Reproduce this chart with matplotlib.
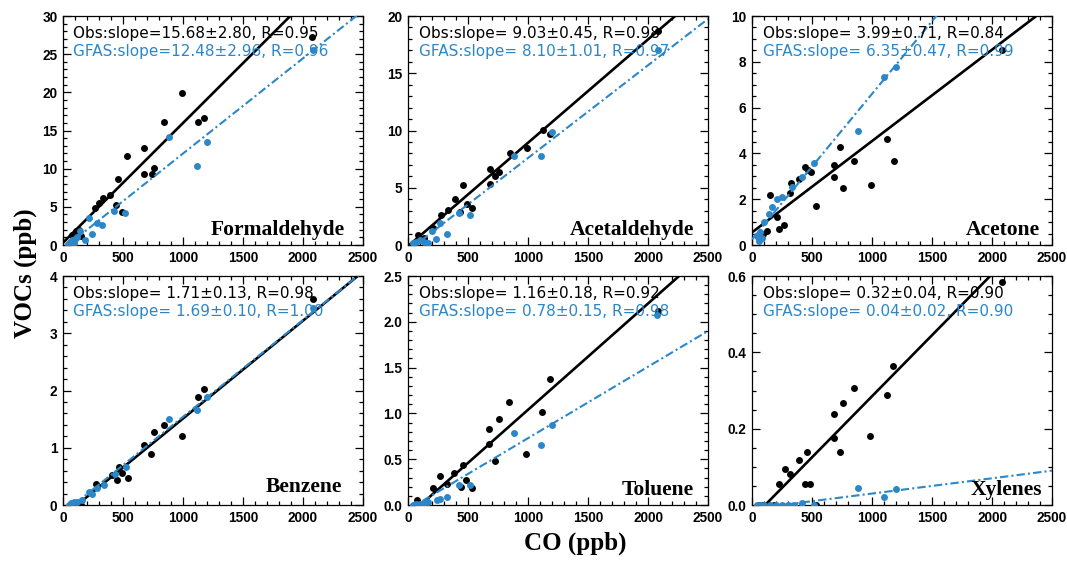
import numpy as np
import matplotlib
matplotlib.use("Agg")
import matplotlib.pyplot as plt
from matplotlib.ticker import MultipleLocator

# species names and fit results (slope in ppb VOC per ppm CO)
species = ["Formaldehyde", "Acetaldehyde", "Acetone", "Benzene", "Toluene", "Xylenes"]
obs_slope = [15.68, 9.03, 3.99, 1.71, 1.16, 0.32]
obs_err = [2.80, 0.45, 0.71, 0.13, 0.18, 0.04]
obs_r = [0.95, 0.98, 0.84, 0.98, 0.92, 0.90]
obs_icpt = [0.3, -0.1, 0.55, -0.2, -0.12, -0.035]
gfas_slope = [12.48, 8.10, 6.35, 1.69, 0.78, 0.04]
gfas_err = [2.96, 1.01, 0.47, 0.10, 0.15, 0.02]
gfas_r = [0.96, 0.97, 0.99, 1.00, 0.98, 0.90]
gfas_icpt = [-0.5, -0.5, 0.25, -0.15, -0.05, -0.01]

y_max = [30, 20, 10, 4, 2.5, 0.6]
y_major = [5, 5, 2, 1, 0.5, 0.2]
y_minor = [1, 1, 0.5, 0.2, 0.1, 0.05]

# observed points (CO ppb, VOC ppb)
form_obs_co = [55, 75, 90, 111, 130, 150, 269, 297, 333, 394, 444, 458, 491, 536, 677, 677, 741, 760, 844, 991, 1124, 1179, 2073]
form_obs = [0.3, 1.3, 0.8, 1.8, 2.0, 1.2, 4.8, 5.5, 6.2, 6.6, 5.2, 8.6, 4.3, 11.6, 12.7, 9.35, 9.35, 10.1, 16.1, 19.9, 16.1, 16.7, 27.3]
form_gfas_co = [45, 60, 75, 90, 103, 120, 144, 186, 214, 241, 283, 325, 422, 519, 885, 1115, 1204, 2080]
form_gfas = [0.1, 0.4, 0.6, 0.2, 0.8, 1.1, 1.8, 0.66, 3.5, 1.5, 2.9, 2.6, 4.4, 4.2, 14.1, 10.4, 13.45, 25.6]

acet_obs_co = [60, 86, 100, 130, 206, 273, 329, 393, 435, 457, 490, 532, 680, 686, 727, 755, 847, 992, 1126, 1182, 2080]
acet_obs = [0.2, 0.9, 0.5, 0.6, 1.5, 2.6, 3.1, 4.0, 2.9, 5.2, 3.6, 3.2, 5.35, 6.6, 6.0, 6.4, 8.0, 8.5, 10.06, 9.7, 18.7]
acet_gfas_co = [45, 70, 100, 130, 170, 198, 234, 268, 323, 421, 513, 881, 1104, 1196, 2080]
acet_gfas = [0.15, 0.3, 0.44, 0.3, 0.15, 1.18, 0.53, 1.9, 0.97, 2.8, 2.6, 7.8, 7.8, 9.9, 17.0]

acetone_obs_co = [60, 90, 125, 153, 208, 222, 269, 319, 328, 389, 444, 467, 492, 536, 681, 681, 731, 758, 847, 992, 1125, 1181, 2080]
acetone_obs = [0.3, 0.5, 0.59, 2.18, 1.22, 0.68, 0.88, 2.25, 2.7, 2.9, 3.4, 3.28, 3.18, 1.69, 3.5, 2.99, 4.3, 2.51, 3.65, 2.62, 4.65, 3.65, 8.5]
acetone_gfas_co = [42, 56, 69, 80, 97, 139, 167, 208, 250, 333, 417, 514, 883, 1103, 1200]
acetone_gfas = [0.41, 0.19, 0.56, 0.3, 1.0, 1.37, 1.66, 2.03, 2.1, 2.54, 2.99, 3.57, 4.97, 7.35, 7.76]

benz_obs_co = [60, 90, 120, 150, 277, 408, 450, 463, 491, 541, 677, 732, 760, 846, 991, 1129, 1176, 2081]
benz_obs = [0.0, 0.02, 0.0, 0.0, 0.36, 0.52, 0.44, 0.66, 0.56, 0.47, 1.04, 0.89, 1.28, 1.39, 1.21, 1.88, 2.02, 3.6]
benz_gfas_co = [47, 70, 89, 120, 158, 214, 240, 283, 338, 436, 527, 885, 1115, 1199, 2080]
benz_gfas = [0.0, 0.03, 0.06, 0.05, 0.09, 0.22, 0.2, 0.29, 0.35, 0.54, 0.66, 1.50, 1.66, 1.88, 3.45]

tol_obs_co = [78, 100, 130, 206, 268, 323, 387, 443, 457, 485, 532, 678, 678, 728, 758, 844, 987, 1120, 1179, 2080]
tol_obs = [0.055, 0.0, 0.0, 0.183, 0.32, 0.227, 0.35, 0.2, 0.44, 0.275, 0.19, 0.83, 0.667, 0.484, 0.935, 1.125, 0.557, 1.02, 1.375, 2.12]
tol_gfas_co = [45, 70, 100, 130, 170, 240, 270, 323, 421, 518, 880, 1106, 1201, 2071]
tol_gfas = [0.0, 0.01, 0.01, 0.02, 0.037, 0.055, 0.07, 0.09, 0.22, 0.22, 0.79, 0.66, 0.87, 2.07]

xyl_obs_co = [60, 90, 130, 180, 222, 278, 319, 389, 444, 458, 486, 536, 681, 681, 731, 758, 847, 986, 1125, 1175, 2083]
xyl_obs = [0.0, 0.0, 0.0, 0.0, 0.054, 0.095, 0.081, 0.117, 0.054, 0.14, 0.054, 0.0, 0.239, 0.176, 0.138, 0.266, 0.307, 0.18, 0.289, 0.365, 0.585]
xyl_gfas_co = [45, 70, 100, 150, 200, 250, 300, 350, 417, 514, 883, 1103, 1200]
xyl_gfas = [0.0, 0.0, 0.0, 0.0, 0.0, 0.0, 0.0, 0.0, 0.006, 0.0, 0.045, 0.02, 0.043]

obs_co = [form_obs_co, acet_obs_co, acetone_obs_co, benz_obs_co, tol_obs_co, xyl_obs_co]
obs_voc = [form_obs, acet_obs, acetone_obs, benz_obs, tol_obs, xyl_obs]
gfas_co = [form_gfas_co, acet_gfas_co, acetone_gfas_co, benz_gfas_co, tol_gfas_co, xyl_gfas_co]
gfas_voc = [form_gfas, acet_gfas, acetone_gfas, benz_gfas, tol_gfas, xyl_gfas]

blue = "#2b87c8"
# where the species name sits in each panel (axes fraction)
name_x = [0.94, 0.953, 0.96, 0.93, 0.953, 0.967]
name_y = [0.043, 0.043, 0.043, 0.057, 0.044, 0.044]

fig = plt.figure(figsize=(10.67, 5.64), dpi=100)
lefts = [0.059, 0.3824, 0.7048]
bottoms = [0.5656, 0.1046]
w, h = 0.2812, 0.406

for i in range(6):
    ax = fig.add_axes([lefts[i % 3], bottoms[i // 3], w, h])
    ax.plot(obs_co[i], obs_voc[i], "o", color="black", ms=5, mec="none", zorder=3)
    xx = np.array([0, 2500])
    ax.plot(xx, obs_icpt[i] + obs_slope[i] * xx / 1000, color="black", lw=1.9, zorder=4)
    ax.plot(gfas_co[i], gfas_voc[i], "o", color=blue, ms=5, mec="none", zorder=5)
    ax.plot(xx, gfas_icpt[i] + gfas_slope[i] * xx / 1000, color=blue, lw=1.5,
            ls=(0, (4, 1.5, 1, 1.5)), zorder=6)

    ax.set_xlim(0, 2500)
    ax.set_ylim(0, y_max[i])
    ax.xaxis.set_major_locator(MultipleLocator(500))
    ax.xaxis.set_minor_locator(MultipleLocator(100))
    ax.yaxis.set_major_locator(MultipleLocator(y_major[i]))
    ax.yaxis.set_minor_locator(MultipleLocator(y_minor[i]))
    ax.tick_params(which="both", direction="in", top=True, right=True, width=0.9)
    ax.tick_params(which="major", length=5.5, labelsize=9.8, pad=4)
    ax.tick_params(which="minor", length=2.8)
    for lab in ax.get_xticklabels() + ax.get_yticklabels():
        lab.set_fontfamily("Liberation Sans")
        lab.set_fontweight("bold")
    for sp in ax.spines.values():
        sp.set_linewidth(0.9)

    ax.text(0.035, 0.905, "Obs:slope=%5.2f\u00b1%.2f, R=%.2f" % (obs_slope[i], obs_err[i], obs_r[i]),
            transform=ax.transAxes, fontsize=11, family="DejaVu Sans", color="black", zorder=7)
    ax.text(0.035, 0.826, "GFAS:slope=%5.2f\u00b1%.2f, R=%.2f" % (gfas_slope[i], gfas_err[i], gfas_r[i]),
            transform=ax.transAxes, fontsize=11, family="DejaVu Sans", color=blue, zorder=7)
    ax.text(name_x[i], name_y[i], species[i], transform=ax.transAxes, ha="right", va="baseline",
            fontsize=15.5, family="Liberation Serif", weight="bold", zorder=7)

fig.text(0.024, 0.515, "VOCs (ppb)", rotation=90, ha="center", va="center",
         fontsize=18, family="Liberation Serif", weight="bold")
fig.text(0.539, 0.025, "CO (ppb)", ha="center", va="baseline",
         fontsize=18, family="Liberation Serif", weight="bold")

fig.savefig("out.png", dpi=100)
